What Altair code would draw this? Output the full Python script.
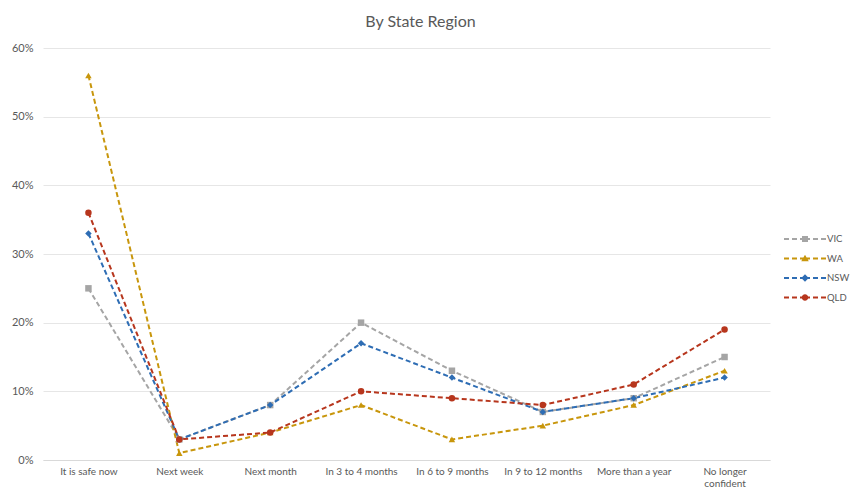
import altair as alt
import pandas as pd

categories = ["It is safe now", "Next week", "Next month", "In 3 to 4 months",
              "In 6 to 9 months", "In 9 to 12 months", "More than a year",
              "No longer confident"]
series = ["VIC", "WA", "NSW", "QLD"]
vic = [25, 3, 8, 20, 13, 7, 9, 15]
wa = [56, 1, 4, 8, 3, 5, 8, 13]
nsw = [33, 3, 8, 17, 12, 7, 9, 12]
qld = [36, 3, 4, 10, 9, 8, 11, 19]
colors = ["#A5A5A5", "#C8960C", "#2E6DB4", "#B7361D"]
shapes = ["square", "triangle-up", "diamond", "circle"]

# legend key glyphs: dashed line with the series marker in the middle
DASHES = ("M-4.2,-0.18h1v0.36h-1Z M-2.6,-0.18h1v0.36h-1Z "
          "M1.6,-0.18h1v0.36h-1Z M3.2,-0.18h1v0.36h-1Z M-1,-0.18h2v0.36h-2Z ")
key_marks = [
    "M-0.6,-0.6h1.2v1.2h-1.2Z",
    "M0,-0.75L0.75,0.55L-0.75,0.55Z",
    "M0,-0.75L0.75,0L0,0.75L-0.75,0Z",
    "M-0.65,0A0.65,0.65 0 1,1 0.65,0A0.65,0.65 0 1,1 -0.65,0Z",
]
key_paths = [DASHES + m for m in key_marks]

rows = []
for name, vals in zip(series, [vic, wa, nsw, qld]):
    for c, v in zip(categories, vals):
        rows.append({"Category": c, "Region": name, "Value": v / 100})
df = pd.DataFrame(rows)

FONT = "Lato"
GREY = "#595959"

x = alt.X("Category:N", sort=categories, title=None,
          scale=alt.Scale(paddingInner=0, paddingOuter=0.5),
          axis=alt.Axis(labelAngle=0, ticks=False, domainColor="#D9D9D9",
                        labelColor=GREY, labelFont=FONT, labelFontSize=10,
                        labelPadding=6, labelLimit=200,
                        labelExpr="datum.value == 'No longer confident' ? ['No longer', 'confident'] : datum.value"))
y = alt.Y("Value:Q", title=None,
          scale=alt.Scale(domain=[0, 0.6]),
          axis=alt.Axis(format=".0%", values=[0, 0.1, 0.2, 0.3, 0.4, 0.5, 0.6],
                        domain=False, ticks=False, labelColor=GREY,
                        labelFont=FONT, labelFontSize=11, labelPadding=10,
                        gridColor="#E6E6E6", gridWidth=1))

color_scale = alt.Scale(domain=series, range=colors)

lines = alt.Chart(df).mark_line(strokeDash=[5, 3], strokeWidth=2).encode(
    x=x, y=y,
    color=alt.Color("Region:N", sort=series, scale=color_scale, legend=None),
    detail="Region:N")

points = alt.Chart(df).mark_point(filled=True, size=42, opacity=1).encode(
    x=x, y=y,
    color=alt.Color("Region:N", sort=series, scale=color_scale, legend=None),
    shape=alt.Shape("Region:N", sort=series,
                    scale=alt.Scale(domain=series, range=shapes), legend=None))

leg = alt.Legend(title=None, orient="none", legendX=757, legendY=186,
                 padding=0, labelColor=GREY, labelFont=FONT, labelFontSize=9.5,
                 symbolSize=100, symbolStrokeWidth=0, symbolOpacity=1,
                 rowPadding=9.5, labelOffset=17)

legend_layer = alt.Chart(df).mark_point(filled=True, size=100).encode(
    x=x, y=y,
    color=alt.Color("Region:N", sort=series, scale=color_scale, legend=leg),
    shape=alt.Shape("Region:N", sort=series,
                    scale=alt.Scale(domain=series, range=key_paths),
                    legend=leg)).transform_filter("false")

chart = alt.layer(lines, points, legend_layer).resolve_scale(
    color="independent", shape="independent"
).properties(
    width=727, height=412,
    title=alt.TitleParams("By State Region", font=FONT, fontSize=16,
                          fontWeight="normal", color=GREY, offset=12, dx=14),
    autosize=alt.AutoSizeParams(type="none"),
    padding={"left": 43, "top": 48, "right": 80, "bottom": 29},
    background="white",
).configure_view(strokeWidth=0)

chart.save("out.html", embed_options={"renderer": "svg", "actions": False})
